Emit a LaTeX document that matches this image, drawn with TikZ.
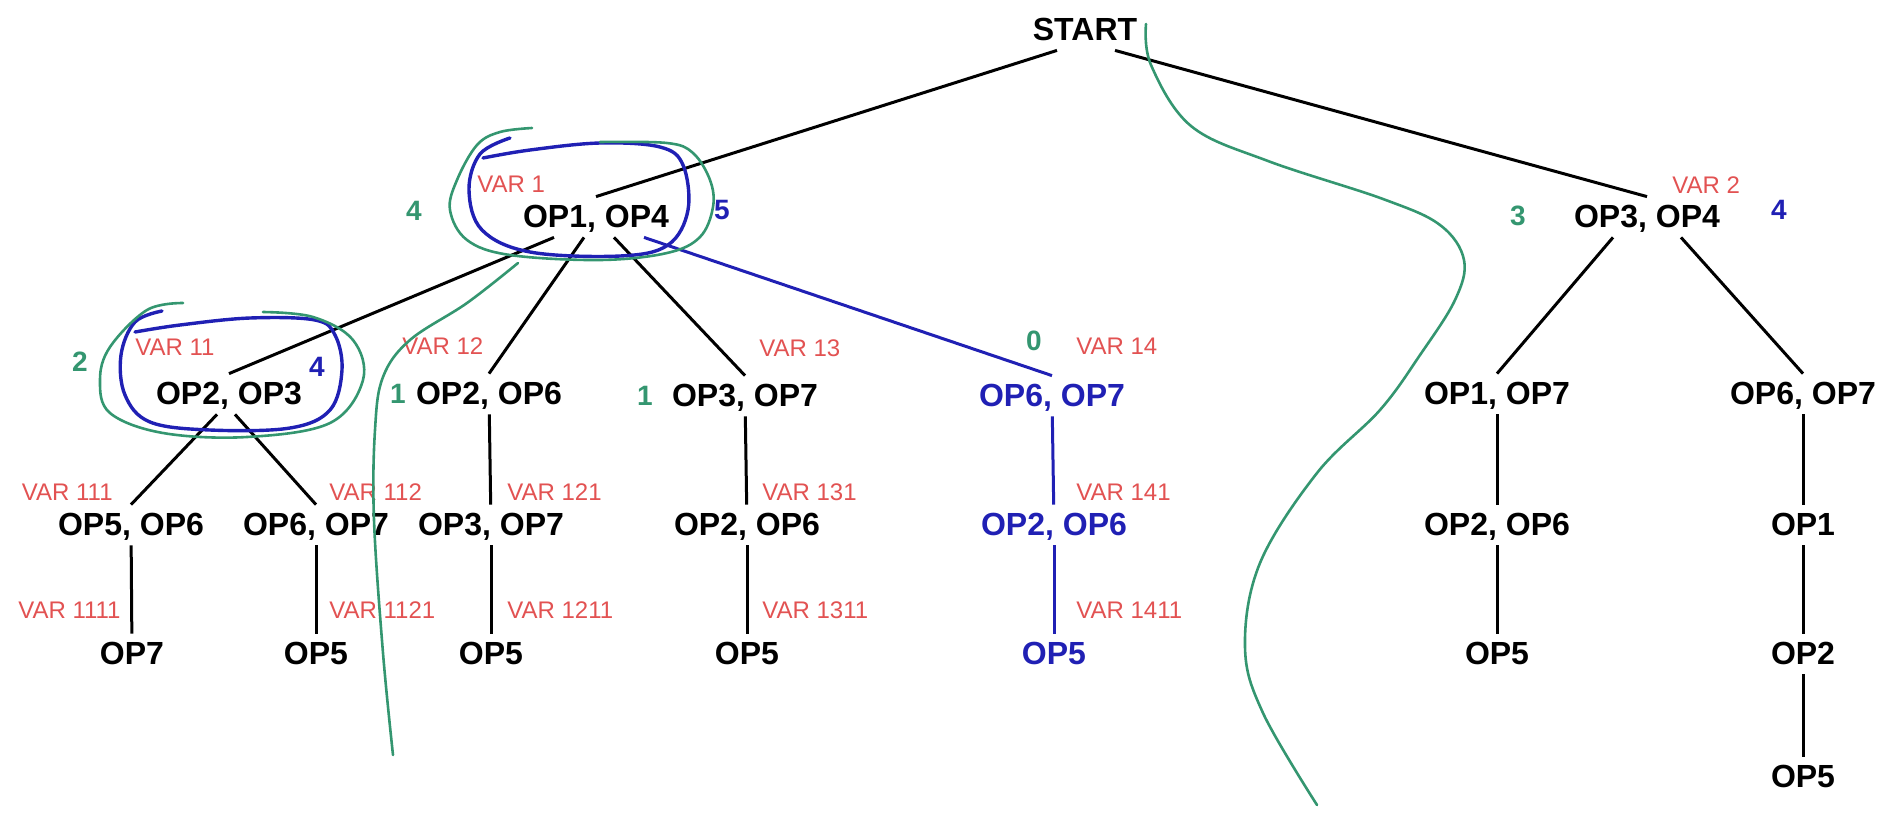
\documentclass[tikz,border=0pt]{standalone}
\usepackage{fontspec}
\setmainfont{Liberation Sans}
\usepackage{tikz}
\definecolor{pengreen}{RGB}{52,150,112}
\definecolor{penblue}{RGB}{32,32,180}
\definecolor{varred}{RGB}{226,82,82}

\begin{document}
\begin{tikzpicture}[x=0.5pt,y=-0.5pt,
  op/.style={inner sep=3pt,text height=12pt,text depth=2pt,
    font=\bfseries\fontsize{16}{19}\selectfont},
  chosen/.style={op,text=penblue},
  var/.style={anchor=west,inner sep=0pt,text=varred,
    font=\fontsize{12}{14}\selectfont},
  gnum/.style={inner sep=0pt,text=pengreen,font=\bfseries\fontsize{14}{16}\selectfont},
  bnum/.style={inner sep=0pt,text=penblue,font=\bfseries\fontsize{14}{16}\selectfont},
  link/.style={line width=1.5pt},
  bluelink/.style={link,draw=penblue},
  greenpen/.style={draw=pengreen,line width=1.3pt,line cap=round},
  bluepen/.style={draw=penblue,line width=1.7pt,line cap=round}]
    \useasboundingbox (0,0) rectangle (1884,815);
    % Root and first level
    \node[op] (n0) at (1085,30) {START};
    \node[op] (n1) at (596,217) {OP1, OP4};
    \node[op] (n2) at (1647,217) {OP3, OP4};
    % Second level
    \node[op] (n11) at (229,394) {OP2, OP3};
    \node[op] (n12) at (489,394) {OP2, OP6};
    \node[op] (n13) at (745,396) {OP3, OP7};
    \node[chosen] (n14) at (1052,396) {OP6, OP7};
    \node[op] (n21) at (1497,394) {OP1, OP7};
    \node[op] (n22) at (1803,394) {OP6, OP7};
    % Third level
    \node[op] (n111) at (131,525) {OP5, OP6};
    \node[op] (n112) at (316,525) {OP6, OP7};
    \node[op] (n121) at (491,525) {OP3, OP7};
    \node[op] (n131) at (747,525) {OP2, OP6};
    \node[chosen] (n141) at (1054,525) {OP2, OP6};
    \node[op] (n211) at (1497,525) {OP2, OP6};
    \node[op] (n221) at (1803,525) {OP1};
    % Fourth and fifth level
    \node[op] (n1111) at (132,654) {OP7};
    \node[op] (n1121) at (316,654) {OP5};
    \node[op] (n1211) at (491,654) {OP5};
    \node[op] (n1311) at (747,654) {OP5};
    \node[chosen] (n1411) at (1054,654) {OP5};
    \node[op] (n2111) at (1497,654) {OP5};
    \node[op] (n2211) at (1803,654) {OP2};
    \node[op] (n22111) at (1803,777) {OP5};

    % Variant labels
    \node[var] (l1) at (477,184) {VAR 1};
    \node[var] (l2) at (1672,185) {VAR 2};
    \node[var] (l11) at (135,347) {VAR 11};
    \node[var] (l12) at (402,346) {VAR 12};
    \node[var] (l13) at (759,348) {VAR 13};
    \node[var] (l14) at (1076,346) {VAR 14};
    \node[var,anchor=east] (l111) at (113,492) {VAR 111};
    \node[var] (l112) at (329,492) {VAR 112};
    \node[var] (l121) at (507,492) {VAR 121};
    \node[var] (l131) at (762,492) {VAR 131};
    \node[var] (l141) at (1076,492) {VAR 141};
    \node[var,anchor=east] (l1111) at (121,610) {VAR 1111};
    \node[var] (l1121) at (329,610) {VAR 1121};
    \node[var] (l1211) at (507,610) {VAR 1211};
    \node[var] (l1311) at (762,610) {VAR 1311};
    \node[var] (l1411) at (1076,610) {VAR 1411};

    % Scores
    \node[gnum] (g1) at (414,211) {4};
    \node[bnum] (b1) at (722,210) {5};
    \node[gnum] (g2) at (1518,216) {3};
    \node[bnum] (b2) at (1779,210) {4};
    \node[gnum] (g11) at (80,362) {2};
    \node[bnum] (b11) at (317,367) {4};
    \node[gnum] (g12) at (398,394) {1};
    \node[gnum] (g13) at (645,396) {1};
    \node[gnum] (g14) at (1034,341) {0};

    % Connectors
    \draw[link] ([xshift=-14pt]n0.south) -- (n1.north);
    \draw[link] ([xshift=15pt]n0.south) -- (n2.north);
    \draw[link] ([xshift=-21pt]n1.south) -- (n11.north);
    \draw[link] ([xshift=-6pt]n1.south) -- (n12.north);
    \draw[link] ([xshift=9pt]n1.south) -- (n13.north);
    \draw[bluelink] ([xshift=24pt]n1.south) -- (n14.north);
    \draw[link] ([xshift=-17pt]n2.south) -- (n21.north);
    \draw[link] ([xshift=17pt]n2.south) -- (n22.north);
    \draw[link] ([xshift=-6pt]n11.south) -- (n111.north);
    \draw[link] ([xshift=3pt]n11.south) -- (n112.north);
    \draw[link] (n12) -- (n121);
    \draw[link] (n13) -- (n131);
    \draw[bluelink] (n14) -- (n141);
    \draw[link] (n21) -- (n211);
    \draw[link] (n22) -- (n221);
    \draw[link] (n111) -- (n1111);
    \draw[link] (n112) -- (n1121);
    \draw[link] (n121) -- (n1211);
    \draw[link] (n131) -- (n1311);
    \draw[bluelink] (n141) -- (n1411);
    \draw[link] (n211) -- (n2111);
    \draw[link] (n221) -- (n2211);
    \draw[link] (n2211) -- (n22111);

    % Pen marks
    \draw[bluepen] plot[smooth,tension=0.6] coordinates {(510,138) (480,154) (469,190)
      (482,230) (530,252) (620,256) (668,245) (688,210) (683,165) (660,147)
      (600,143) (530,150) (483,158)};
    \draw[greenpen] plot[smooth,tension=0.6] coordinates {(532,128) (500,132) (477,145)
      (457,180) (450,210) (467,240) (510,255) (600,260) (667,253) (700,237)
      (713,207) (710,180) (693,153) (667,143) (600,142)};
    \draw[bluepen] plot[smooth,tension=0.6] coordinates {(162,311) (135,322) (121,355)
      (125,395) (150,422) (210,430) (290,428) (330,410) (342,370) (335,335)
      (315,320) (250,318) (180,325) (135,332)};
    \draw[greenpen] plot[smooth,tension=0.6] coordinates {(183,303) (147,310) (110,347)
      (100,380) (110,413) (163,433) (247,437) (330,423) (363,380) (353,340)
      (313,317) (263,312)};
    \draw[greenpen] plot[smooth,tension=0.6] coordinates {(518,263) (467,303) (410,340)
      (383,377) (375,430) (374,520) (383,653) (393,755)};
    \draw[greenpen] plot[smooth,tension=0.6] coordinates {(1146,24) (1151,65) (1191,126)
      (1268,161) (1383,199) (1440,225) (1464,260) (1455,300) (1420,355)
      (1380,410) (1317,473) (1260,563) (1245,647) (1263,713) (1317,805)};
\end{tikzpicture}
\end{document}
